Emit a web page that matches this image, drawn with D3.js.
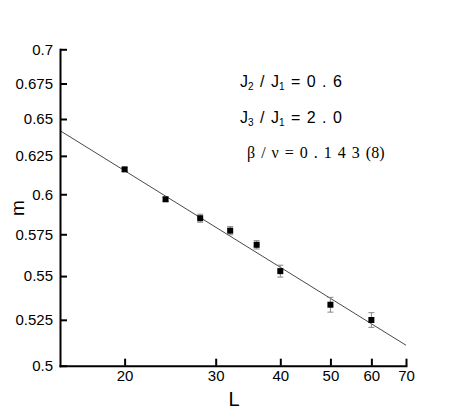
<!doctype html>
<html>
<head>
<meta charset="utf-8">
<script src="https://cdnjs.cloudflare.com/ajax/libs/d3/7.8.5/d3.min.js"></script>
<style>
  body { margin: 0; background: #fff; }
  svg { display: block; }
  .axis text { font-family: "Liberation Sans", Arial, sans-serif; font-size: 15px; fill: #000; }
  .axis path, .axis line { stroke: #000; stroke-width: 2px; }
</style>
</head>
<body>
<svg width="463" height="412"></svg>
<script>
// lattice sizes and order parameter m(L)
var sizes = [20, 24, 28, 32, 36, 40, 50, 60];
var mValues = [0.6161, 0.5968, 0.5849, 0.5772, 0.5686, 0.5529, 0.5335, 0.5249];
var mErrors = [0.0012, 0.0012, 0.0025, 0.0025, 0.0025, 0.0035, 0.0042, 0.0041];
// fitted power law, end points
var fitL = [15, 70];
var fitM = [0.642, 0.511];
var xTicks = [20, 30, 40, 50, 60, 70];
var yTicks = [0.5, 0.525, 0.55, 0.575, 0.6, 0.625, 0.65, 0.675, 0.7];
var yTickLabels = ["0.5", "0.525", "0.55", "0.575", "0.6", "0.625", "0.65", "0.675", "0.7"];

var svg = d3.select("svg");

var x = d3.scaleLog().domain([15, 70]).range([60, 406]);
var y = d3.scaleLog().domain([0.5, 0.7]).range([365.7, 49.3]);

// fit line
svg.append("path")
    .datum(fitL.map(function(d, i) { return [d, fitM[i]]; }))
    .attr("d", d3.line().x(function(d) { return x(d[0]); }).y(function(d) { return y(d[1]); }))
    .attr("fill", "none")
    .attr("stroke", "#333")
    .attr("stroke-width", 0.9);

// error bars
var pts = sizes.map(function(d, i) { return {L: d, m: mValues[i], e: mErrors[i]}; });
var eb = svg.append("g").attr("stroke", "#888").attr("stroke-width", 1);
pts.forEach(function(p) {
    var cx = x(p.L), y0 = y(p.m - p.e), y1 = y(p.m + p.e);
    eb.append("line").attr("x1", cx).attr("x2", cx).attr("y1", y0).attr("y2", y1);
    eb.append("line").attr("x1", cx - 3).attr("x2", cx + 3).attr("y1", y0).attr("y2", y0);
    eb.append("line").attr("x1", cx - 3).attr("x2", cx + 3).attr("y1", y1).attr("y2", y1);
});

// markers
svg.append("g").selectAll("rect")
    .data(pts)
    .enter()
    .append("rect")
    .attr("x", function(d) { return x(d.L) - 3; })
    .attr("y", function(d) { return y(d.m) - 3; })
    .attr("width", 6)
    .attr("height", 6)
    .attr("fill", "#000");

// axes
svg.append("g")
    .attr("class", "axis")
    .attr("transform", "translate(0,365.7)")
    .call(d3.axisBottom(x).tickValues(xTicks).tickFormat(d3.format("d"))
        .tickSize(-7).tickSizeOuter(0).tickPadding(5));

svg.append("g")
    .attr("class", "axis")
    .attr("transform", "translate(60,0)")
    .call(d3.axisLeft(y).tickValues(yTicks).tickFormat(function(d, i) { return yTickLabels[i]; })
        .tickSize(-7).tickSizeOuter(0).tickPadding(7));

svg.selectAll(".axis path").attr("stroke-linecap", "square");

// axis titles
svg.append("text")
    .attr("x", 234).attr("y", 405.7)
    .attr("text-anchor", "middle")
    .style("font-family", "Liberation Sans, Arial, sans-serif")
    .style("font-size", "20px")
    .text("L");

svg.append("text")
    .attr("transform", "translate(23.5,208) rotate(-90)")
    .attr("text-anchor", "middle")
    .style("font-family", "Liberation Sans, Arial, sans-serif")
    .style("font-size", "19px")
    .text("m");

// annotations
function ratio(yb, sub, rhs) {
    var t = svg.append("text")
        .attr("x", 240).attr("y", yb)
        .attr("xml:space", "preserve")
        .style("font-family", "Liberation Sans, Arial, sans-serif")
        .style("font-size", "16px")
        .style("word-spacing", "2px");
    t.append("tspan").text("J");
    t.append("tspan").attr("dy", 3).style("font-size", "10px").text(sub);
    t.append("tspan").attr("dy", -3).text(" / J");
    t.append("tspan").attr("dy", 3).style("font-size", "10px").text("1");
    t.append("tspan").attr("dy", -3).text(" = " + rhs);
}
ratio(86.5, "2", "0 . 6");
ratio(122.5, "3", "2 . 0");

svg.append("text")
    .attr("x", 247).attr("y", 158)
    .attr("xml:space", "preserve")
    .style("font-family", "Liberation Serif, Times New Roman, serif")
    .style("font-size", "16px")
    .style("word-spacing", "2px")
    .text("β / ν = 0 . 1 4 3 (8)");
</script>
</body>
</html>
